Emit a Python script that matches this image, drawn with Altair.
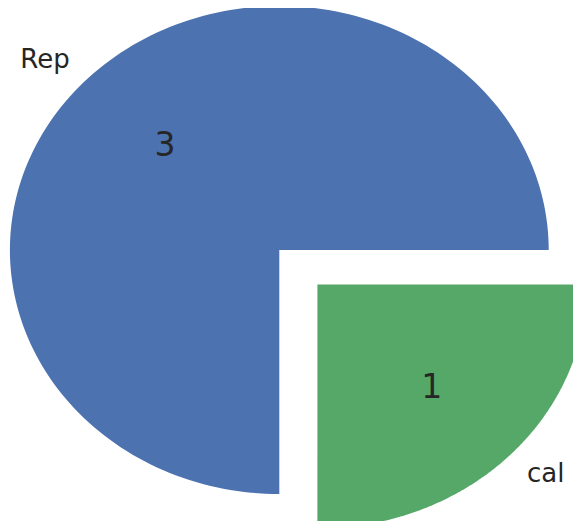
import altair as alt
import pandas as pd

# data
labels = ["Rep", "cal"]
values = [3, 1]

# styling / layout constants
COLORS = ["#4C72B0", "#55A868"]
EXPLODE = {"cal": 0.2}
N = 180  # arc resolution
W, H = 565, 513
X_DOMAIN = [-271.3 / 269.4, (W - 271.3) / 269.4]
Y_DOMAIN = [(242 - H) / 244, 242 / 244]
TEXT_COLOR = "#262626"
FONT = "DejaVu Sans"

df = pd.DataFrame({"label": labels, "value": values, "idx": list(range(len(labels)))})

explode_expr = " : ".join(
    [f"datum.label == '{k}' ? {v}" for k, v in EXPLODE.items()] + ["0"]
)

base = (
    alt.Chart(df)
    .transform_window(cum="sum(value)", sort=[alt.SortField("idx")], frame=[None, 0])
    .transform_joinaggregate(total="sum(value)")
    .transform_calculate(
        a0="2*PI*(datum.cum - datum.value)/datum.total",
        a1="2*PI*datum.cum/datum.total",
        ex=explode_expr,
    )
    .transform_calculate(mid="(datum.a0 + datum.a1)/2")
    .transform_calculate(
        ox="datum.ex*cos(datum.mid)",
        oy="datum.ex*sin(datum.mid)",
    )
)

xs = alt.Scale(domain=X_DOMAIN, nice=False, zero=False)
ys = alt.Scale(domain=Y_DOMAIN, nice=False, zero=False)
color = alt.Color(
    "label:N", scale=alt.Scale(domain=labels, range=COLORS), legend=None
)

slices = (
    base.transform_calculate(pts=f"sequence(0, {N + 3})")
    .transform_flatten(["pts"])
    .transform_calculate(
        center=f"datum.pts == 0 || datum.pts == {N + 2}",
        ang=f"datum.a0 + (datum.a1 - datum.a0)*(datum.pts - 1)/{N}",
    )
    .transform_calculate(
        px="datum.ox + (datum.center ? 0 : cos(datum.ang))",
        py="datum.oy + (datum.center ? 0 : sin(datum.ang))",
    )
    .mark_line(filled=True, strokeWidth=0)
    .encode(
        x=alt.X("px:Q", scale=xs, axis=None),
        y=alt.Y("py:Q", scale=ys, axis=None),
        color=color,
        detail="label:N",
        order=alt.Order("pts:Q"),
    )
)

lab = base.transform_calculate(
    lx="datum.ox + 1.1*cos(datum.mid)",
    ly="datum.oy + 1.1*sin(datum.mid)",
    vx="datum.ox + 0.6*cos(datum.mid)",
    vy="datum.oy + 0.6*sin(datum.mid)",
)

labels_left = (
    lab.transform_filter("cos(datum.mid) >= 0")
    .mark_text(align="left", baseline="middle", font=FONT, fontSize=26, color=TEXT_COLOR)
    .encode(x=alt.X("lx:Q", scale=xs), y=alt.Y("ly:Q", scale=ys), text="label:N")
)
labels_right = (
    lab.transform_filter("cos(datum.mid) < 0")
    .mark_text(align="right", baseline="middle", font=FONT, fontSize=26, color=TEXT_COLOR)
    .encode(x=alt.X("lx:Q", scale=xs), y=alt.Y("ly:Q", scale=ys), text="label:N")
)
value_text = lab.mark_text(
    align="center", baseline="middle", font=FONT, fontSize=33, color=TEXT_COLOR
).encode(x=alt.X("vx:Q", scale=xs), y=alt.Y("vy:Q", scale=ys), text="value:Q")

chart = (
    alt.layer(slices, labels_left, labels_right, value_text)
    .properties(width=W, height=H, padding=0, autosize="none")
    .configure_view(stroke=None)
)

chart.save("out.html", embed_options={"renderer": "svg", "actions": False})
